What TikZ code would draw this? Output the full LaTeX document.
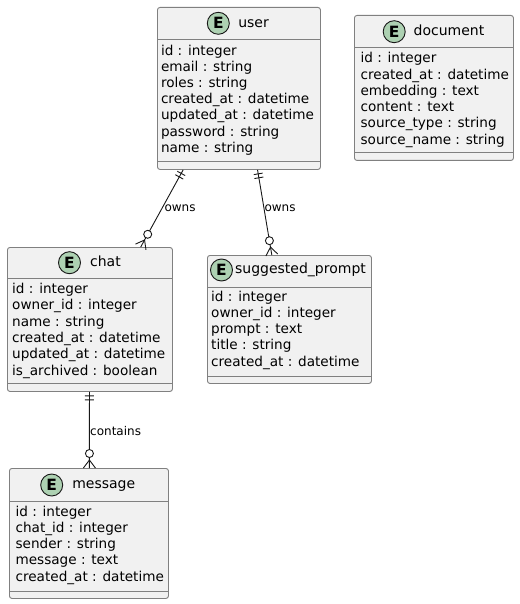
\documentclass[tikz,border=0pt]{standalone}
\usepackage{fontspec}
\setmainfont{DejaVu Sans}
\usetikzlibrary{calc}
\definecolor{boxfill}{HTML}{F1F1F1}
\definecolor{boxgray}{HTML}{808080}
\definecolor{ink}{HTML}{181818}
\definecolor{egreen}{HTML}{ADD1B2}
\tikzset{
  entbox/.style={draw=boxgray, fill=boxfill, rounded corners=2.5pt, line width=0.9pt,
    inner sep=0pt, anchor=north west, rectangle},
  divline/.style={draw=boxgray, line width=0.9pt},
  ecirc/.style={circle, draw=ink, fill=egreen, line width=0.9pt, minimum size=22pt,
    inner sep=0pt, font=\fontsize{15.5}{16}\selectfont\bfseries, text=black},
  etitle/.style={anchor=base west, inner sep=0pt, font=\fontsize{14}{16}\selectfont, text=black},
  attr/.style={anchor=base west, inner sep=0pt, font=\fontsize{13.6}{16}\selectfont, text=black},
  conn/.style={draw=ink, line width=0.9pt},
  lbl/.style={anchor=west, inner sep=0pt, font=\fontsize{12}{14}\selectfont, text=black}
}
\newcommand{\ERrel}[2]{%
  \draw[conn] (#1) -- (#2);
  \coordinate (#1pa) at ($(#1)!4pt!(#2)$);
  \coordinate (#1pb) at ($(#1)!8pt!(#2)$);
  \draw[conn] ($(#1pa)!4.5pt!90:(#1)$) -- ($(#1pa)!4.5pt!-90:(#1)$);
  \draw[conn] ($(#1pb)!4.5pt!90:(#1)$) -- ($(#1pb)!4.5pt!-90:(#1)$);
  \coordinate (#2q) at ($(#2)!8pt!(#1)$);
  \draw[conn] ($(#2)!6pt!90:(#1)$) -- (#2q) -- ($(#2)!6pt!-90:(#1)$);
  \coordinate (#2c) at ($(#2)!14.5pt!(#1)$);
  \draw[conn, fill=white] (#2c) circle[radius=4pt];
}
\begin{document}
\begin{tikzpicture}[x=1pt, y=-1pt]
\useasboundingbox (0,0) rectangle (519,604);
\fill[white] (0,0) rectangle (519,604);

% user
\node[entbox, minimum width=163pt, minimum height=162pt] (user) at (157,7) {};
\draw[divline] (user.west |- 0,39) -- (user.east |- 0,39);
\draw[divline] (user.west |- 0,161) -- (user.east |- 0,161);
\node[ecirc] (userE) at (218.3,23.3) {E};
\node[etitle] (userT) at (238.1,27.1) {user};
\foreach \t [count=\k from 0] in {id : integer, email : string, roles : string,
  created\_at : datetime, updated\_at : datetime, password : string, name : string}
  \node[attr] (userA\k) at (160.8,55.2+16.2*\k) {\t};

% document
\node[entbox, minimum width=159pt, minimum height=145pt] (doc) at (354,15) {};
\draw[divline] (doc.west |- 0,47) -- (doc.east |- 0,47);
\draw[divline] (doc.west |- 0,152) -- (doc.east |- 0,152);
\node[ecirc] (docE) at (394.2,31.7) {E};
\node[etitle] (docT) at (413.5,35.5) {document};
\foreach \t [count=\k from 0] in {id : integer, created\_at : datetime, embedding : text,
  content : text, source\_type : string, source\_name : string}
  \node[attr] (docA\k) at (360.4,62.8+16.3*\k) {\t};

% chat
\node[entbox, minimum width=165pt, minimum height=144pt] (chat) at (7,247) {};
\draw[divline] (chat.west |- 0,278) -- (chat.east |- 0,278);
\draw[divline] (chat.west |- 0,383) -- (chat.east |- 0,383);
\node[ecirc] (chatE) at (69.5,262.7) {E};
\node[etitle] (chatT) at (89.9,266.5) {chat};
\foreach \t [count=\k from 0] in {id : integer, owner\_id : integer, name : string,
  created\_at : datetime, updated\_at : datetime, is\_archived : boolean}
  \node[attr] (chatA\k) at (12,293.5+16.3*\k) {\t};

% suggested_prompt
\node[entbox, minimum width=164pt, minimum height=128pt] (sp) at (207,255) {};
\draw[divline] (sp.west |- 0,287) -- (sp.east |- 0,287);
\draw[divline] (sp.west |- 0,376) -- (sp.east |- 0,376);
\node[ecirc] (spE) at (221.5,270) {E};
\node[etitle] (spT) at (234.9,273.8) {suggested\_prompt};
\foreach \t [count=\k from 0] in {id : integer, owner\_id : integer, prompt : text,
  title : string, created\_at : datetime}
  \node[attr] (spA\k) at (211,301.2+16.25*\k) {\t};

% message
\node[entbox, minimum width=159pt, minimum height=130pt] (msg) at (9,468) {};
\draw[divline] (msg.west |- 0,501) -- (msg.east |- 0,501);
\draw[divline] (msg.west |- 0,591) -- (msg.east |- 0,591);
\node[ecirc] (msgE) at (51.7,485) {E};
\node[etitle] (msgT) at (72.1,488.8) {message};
\foreach \t [count=\k from 0] in {id : integer, chat\_id : integer, sender : string,
  message : text, created\_at : datetime}
  \node[attr] (msgA\k) at (15.4,516.2+16.25*\k) {\t};

% relations
\coordinate (r1a) at ($(user.south west)!0.1595!(user.south east)$);
\coordinate (r1b) at ($(chat.north west)!0.806!(chat.north east)$);
\ERrel{r1a}{r1b}
\coordinate (r2a) at ($(user.south west)!0.6135!(user.south east)$);
\coordinate (r2b) at ($(sp.north west)!0.393!(sp.north east)$);
\ERrel{r2a}{r2b}
\coordinate (r3a) at ($(chat.south west)!0.497!(chat.south east)$);
\coordinate (r3b) at ($(msg.north west)!0.503!(msg.north east)$);
\ERrel{r3a}{r3b}

\node[lbl] (l1) at (164.3,208) {owns};
\node[lbl] (l2) at (264.3,208) {owns};
\node[lbl] (l3) at (90,431) {contains};
\end{tikzpicture}
\end{document}
